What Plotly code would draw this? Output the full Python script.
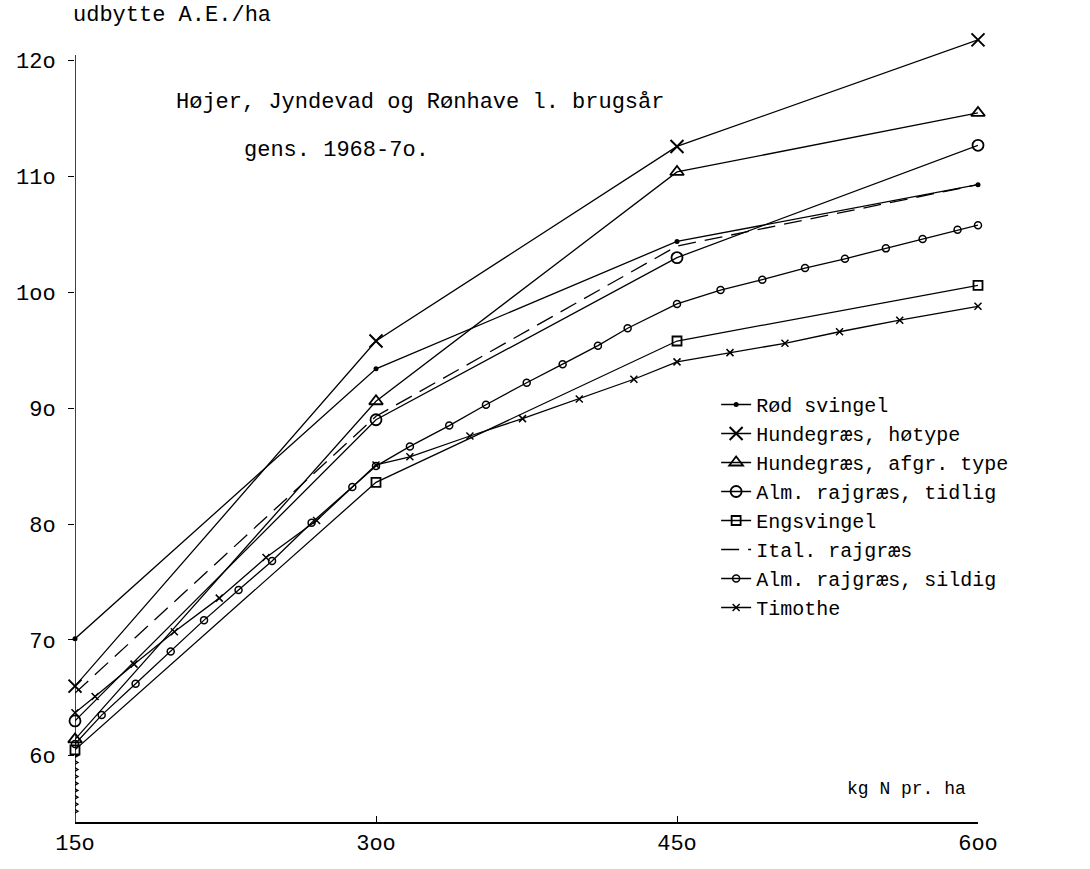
import plotly.graph_objects as go

# ---------------- data ----------------
n_levels = [150, 300, 450, 600]
tick_text_x = ["15o", "3oo", "45o", "6oo"]
y_ticks = [60, 70, 80, 90, 100, 110, 120]
tick_text_y = ["6o", "7o", "8o", "9o", "1oo", "11o", "12o"]

rod_svingel = [70.1, 93.4, 104.4, 109.3]
hundegraes_hoj = [66.0, 95.8, 112.6, 121.8]
hundegraes_afgr = [61.4, 90.6, 110.4, 115.5]
alm_tidlig = [63.0, 89.0, 103.0, 112.7]
engsvingel = [60.5, 83.6, 95.8, 100.6]
ital_rajgraes = [65.4, 89.3, 104.0, 109.3]

# Alm. rajgræs, sildig: every circle drawn along the curve
sildig_x = [150, 163.3, 180.2, 197.7, 214.3, 231.5, 248.2, 267.9, 288.2, 300,
            316.9, 336.5, 354.8, 375.1, 393.0, 410.6, 425.4, 450,
            471.7, 492.5, 513.8, 533.7, 554.1, 572.4, 589.8, 600]
sildig_y = [61.0, 63.5, 66.2, 69.0, 71.7, 74.3, 76.8, 80.1, 83.2, 85.0,
            86.7, 88.5, 90.3, 92.2, 93.8, 95.4, 96.9, 99.0,
            100.2, 101.1, 102.1, 102.9, 103.8, 104.6, 105.4, 105.8]

# Timothe: every small cross drawn along the curve
timothe_x = [150, 160.0, 179.4, 199.5, 221.9, 245.2, 270.4, 300,
             316.9, 346.8, 373.0, 401.3, 428.5, 450,
             476.4, 503.8, 531.0, 561.0, 600]
timothe_y = [63.7, 65.1, 67.9, 70.7, 73.6, 77.1, 80.3, 85.1,
             85.8, 87.6, 89.1, 90.8, 92.5, 94.0,
             94.8, 95.6, 96.6, 97.6, 98.8]

# ---------------- styling ----------------
FONT = "Liberation Mono"
INK = "black"
LW = 1.3

fig = go.Figure()

def add(name, x, y, symbol=None, size=8, dash="solid", mwidth=1.5):
    mode = "lines+markers" if symbol else "lines"
    fig.add_trace(go.Scatter(
        x=x, y=y, name=name, mode=mode,
        line=dict(color=INK, width=LW, dash=dash),
        marker=dict(symbol=symbol or "circle", size=size, color=INK,
                    line=dict(color=INK, width=mwidth)),
        cliponaxis=False,
    ))

add("Rød svingel", n_levels, rod_svingel, "circle", 5, mwidth=0)
add("Hundegræs, høtype", n_levels, hundegraes_hoj, "x-thin-open", 13, mwidth=2)
add("Hundegræs, afgr. type", n_levels, hundegraes_afgr, "triangle-up-open", 12, mwidth=1.8)
add("Alm. rajgræs, tidlig", n_levels, alm_tidlig, "circle-open", 11, mwidth=1.8)
add("Engsvingel", n_levels, engsvingel, "square-open", 9, mwidth=1.8)
add("Ital. rajgræs", n_levels, ital_rajgraes, None, dash="18px,9px")
add("Alm. rajgræs, sildig", sildig_x, sildig_y, "circle-open", 7, mwidth=1.5)
add("Timothe", timothe_x, timothe_y, "x-thin-open", 7, mwidth=1.5)

Y_MIN, Y_MAX = 54.27, 123.0

# y-axis line (from the bottom up to just above 12o)
fig.add_shape(type="line", xref="x", yref="y", x0=150, x1=150, y0=Y_MIN, y1=120.5,
              line=dict(color=INK, width=1.5))
# axis-break squiggle below 6o
pts = []
yy = 60.0
sgn = 1
while yy > Y_MIN + 0.5:
    pts.append(f"{3 * sgn},{yy:.3f}")
    sgn = -sgn
    yy -= 0.3
path = "M0,60 L" + " L".join(pts)
fig.add_shape(type="path", xref="x", yref="y", xsizemode="pixel", xanchor=150,
              path=path, line=dict(color=INK, width=1.3))

fig.update_layout(
    width=1090, height=869,
    margin=dict(l=75, r=112, t=26, b=39),
    paper_bgcolor="white", plot_bgcolor="white",
    font=dict(family=FONT, color=INK, size=21),
    showlegend=True,
    legend=dict(x=0.71, y=0.549, xanchor="left", yanchor="top",
                font=dict(family=FONT, size=20, color=INK),
                bgcolor="rgba(0,0,0,0)", tracegroupgap=0),
    xaxis=dict(range=[150, 600], tickvals=n_levels, ticktext=tick_text_x,
               showgrid=False, zeroline=False, showline=True, linecolor=INK,
               linewidth=1.5, ticks="inside", ticklen=6, tickcolor=INK,
               tickfont=dict(family=FONT, size=22, color=INK)),
    yaxis=dict(range=[Y_MIN, Y_MAX], tickvals=y_ticks, ticktext=tick_text_y,
               showgrid=False, zeroline=False, showline=False,
               ticks="outside", ticklen=6, tickcolor=INK, ticklabelstandoff=8,
               tickfont=dict(family=FONT, size=22, color=INK)),
    annotations=[
        dict(text="udbytte A.E./ha", xref="paper", yref="paper", x=0.107, y=1.0137,
             xanchor="center", yanchor="middle", showarrow=False,
             font=dict(family=FONT, size=22, color=INK)),
        dict(text="Højer, Jyndevad og Rønhave l. brugsår", xref="paper", yref="paper",
             x=0.382, y=0.904, xanchor="center", yanchor="middle", showarrow=False,
             font=dict(family=FONT, size=22, color=INK)),
        dict(text="gens. 1968-7o.", xref="paper", yref="paper",
             x=0.29, y=0.8433, xanchor="center", yanchor="middle", showarrow=False,
             font=dict(family=FONT, size=22, color=INK)),
        dict(text="kg N pr. ha", xref="paper", yref="paper",
             x=0.921, y=0.041, xanchor="center", yanchor="middle", showarrow=False,
             font=dict(family=FONT, size=18, color=INK)),
    ],
)

fig.write_html("out.html")
